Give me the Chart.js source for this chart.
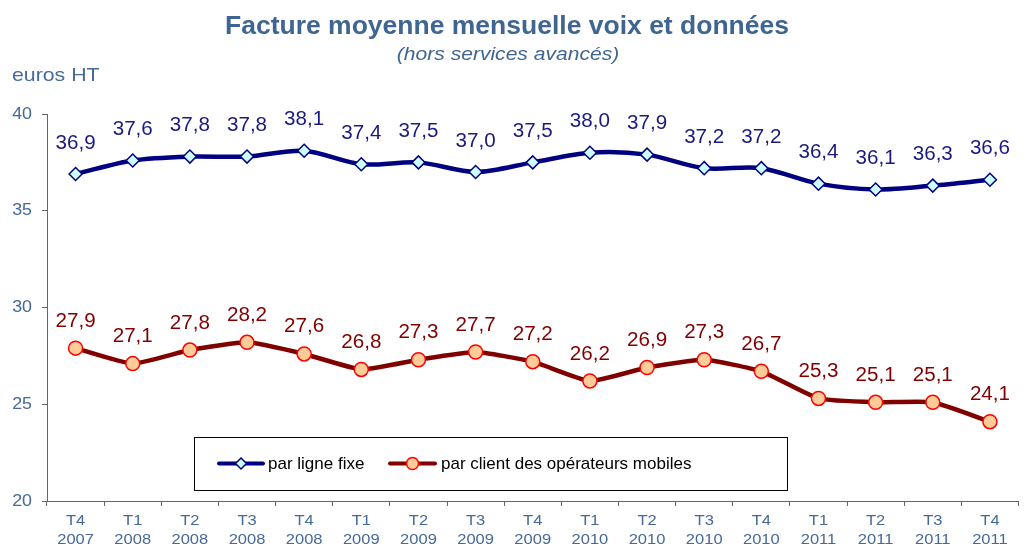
<!DOCTYPE html>
<html><head><meta charset="utf-8">
<script src="https://cdn.jsdelivr.net/npm/chart.js@4/dist/chart.umd.min.js"></script>
<style>html,body{margin:0;padding:0;background:#fff}#w{width:1027px;height:547px}</style>
</head><body><div id="w"><canvas id="c" width="1027" height="547"></canvas></div>
<script>
const quarters = ["T4","T1","T2","T3","T4","T1","T2","T3","T4","T1","T2","T3","T4","T1","T2","T3","T4"];
const years = ["2007","2008","2008","2008","2008","2009","2009","2009","2009","2010","2010","2010","2010","2011","2011","2011","2011"];
const fixe = [36.9,37.6,37.8,37.8,38.1,37.4,37.5,37.0,37.5,38.0,37.9,37.2,37.2,36.4,36.1,36.3,36.6];
const mobile = [27.9,27.1,27.8,28.2,27.6,26.8,27.3,27.7,27.2,26.2,26.9,27.3,26.7,25.3,25.1,25.1,24.1];
const yTicks = [20,25,30,35,40];
const seriesNames = ["par ligne fixe","par client des opérateurs mobiles"];
const titleText = "Facture moyenne mensuelle voix et données";
const subtitleText = "(hors services avancés)";
const unitText = "euros HT";

const labels = quarters.map((q,i)=>[q,years[i]]);
const FONT = "'Liberation Sans', Arial, sans-serif";
const axisBlue = "#46699a";

function txt(ctx,s,x,y,font,color,align,sx){
  ctx.save();
  ctx.translate(x,y); ctx.scale(sx||1,1);
  ctx.font=font; ctx.fillStyle=color; ctx.textAlign=align||'center'; ctx.textBaseline='middle';
  ctx.fillText(s,0,0);
  ctx.restore();
}

const textPlugin = {
  id:'texts',
  afterDraw(chart){
    const ctx = chart.ctx;
    ctx.save();
    txt(ctx,titleText,507,27,"bold 25px "+FONT,'#3f6593','center',1.06);
    txt(ctx,subtitleText,508,55,"italic 18px "+FONT,'#3f6593','center',1.17);
    txt(ctx,unitText,12,76,"19px "+FONT,axisBlue,'left',1.12);
    const xs=chart.scales.x, ys=chart.scales.y;
    chart.data.labels.forEach((l,i)=>{
      const px=xs.getPixelForValue(i);
      txt(ctx,l[0],px,521,"14px "+FONT,axisBlue,'center',1.18);
      txt(ctx,l[1],px,540,"14px "+FONT,axisBlue,'center',1.18);
    });
    yTicks.forEach(v=>{
      txt(ctx,String(v),32,ys.getPixelForValue(v),"17px "+FONT,axisBlue,'right',1.05);
    });
    const cols=['#1a1a80','#800000'];
    const offs=[31,27];
    chart.data.datasets.forEach((ds,di)=>{
      const meta=chart.getDatasetMeta(di);
      meta.data.forEach((pt,i)=>{
        txt(ctx,ds.data[i].toFixed(1).replace('.',','),pt.x,pt.y-offs[di],"20px "+FONT,cols[di],'center',1.03);
      });
    });
    const bx=194, by=437, bw=593, bh=53;
    ctx.fillStyle='#fff';
    ctx.fillRect(bx,by,bw,bh);
    ctx.strokeStyle='#000'; ctx.lineWidth=1;
    ctx.strokeRect(bx+0.5,by+0.5,bw,bh);
    const cy=by+bh/2;
    const items=[{x0:219,x1:263,tx:268},{x0:390,x1:435,tx:441}];
    chart.data.datasets.forEach((ds,di)=>{
      const it=items[di];
      ctx.strokeStyle=ds.borderColor; ctx.lineWidth=4; ctx.lineCap='round';
      ctx.beginPath(); ctx.moveTo(it.x0,cy); ctx.lineTo(it.x1,cy); ctx.stroke();
      const mx=(it.x0+it.x1)/2;
      ctx.fillStyle=ds.pointBackgroundColor; ctx.strokeStyle=ds.pointBorderColor; ctx.lineWidth=ds.pointBorderWidth;
      ctx.beginPath();
      if(di===0){ const r=5.5; ctx.moveTo(mx,cy-r);ctx.lineTo(mx+r,cy);ctx.lineTo(mx,cy+r);ctx.lineTo(mx-r,cy);ctx.closePath(); }
      else { ctx.arc(mx,cy,6,0,Math.PI*2); }
      ctx.fill(); ctx.stroke();
      txt(ctx,seriesNames[di],it.tx,cy+1,"17px "+FONT,'#000','left',1.0);
    });
    ctx.restore();
  }
};

new Chart(document.getElementById('c'),{
  type:'line',
  data:{labels, datasets:[
    {label:seriesNames[0], data:fixe, borderColor:'#000080', borderWidth:4.5, tension:0.3,
     pointStyle:'rectRot', pointRadius:6.5, pointBackgroundColor:'#ccffff', pointBorderColor:'#000080', pointBorderWidth:1.5},
    {label:seriesNames[1], data:mobile, borderColor:'#800000', borderWidth:4.5, tension:0.15,
     pointStyle:'circle', pointRadius:7, pointBackgroundColor:'#ffcc99', pointBorderColor:'#ff0000', pointBorderWidth:1.5}
  ]},
  options:{
    responsive:false, animation:false, devicePixelRatio:1,
    layout:{padding:{top:114,right:1,left:0,bottom:0}},
    plugins:{legend:{display:false}, title:{display:false}, tooltip:{enabled:false}},
    scales:{
      x:{offset:true,
        grid:{offset:true, drawOnChartArea:false, drawTicks:true, tickLength:5, color:'#666'},
        border:{display:true,color:'#666',width:1},
        ticks:{display:false, autoSkip:false},
        afterFit(s){s.height=46;}
      },
      y:{min:20,max:40,
        afterBuildTicks(s){s.ticks=yTicks.map(v=>({value:v}));},
        grid:{drawOnChartArea:false, drawTicks:true, tickLength:5, color:'#666'},
        border:{display:true,color:'#666',width:1},
        ticks:{display:false},
        afterFit(s){s.width=47;}
      }
    }
  },
  plugins:[textPlugin]
});
</script></body></html>
